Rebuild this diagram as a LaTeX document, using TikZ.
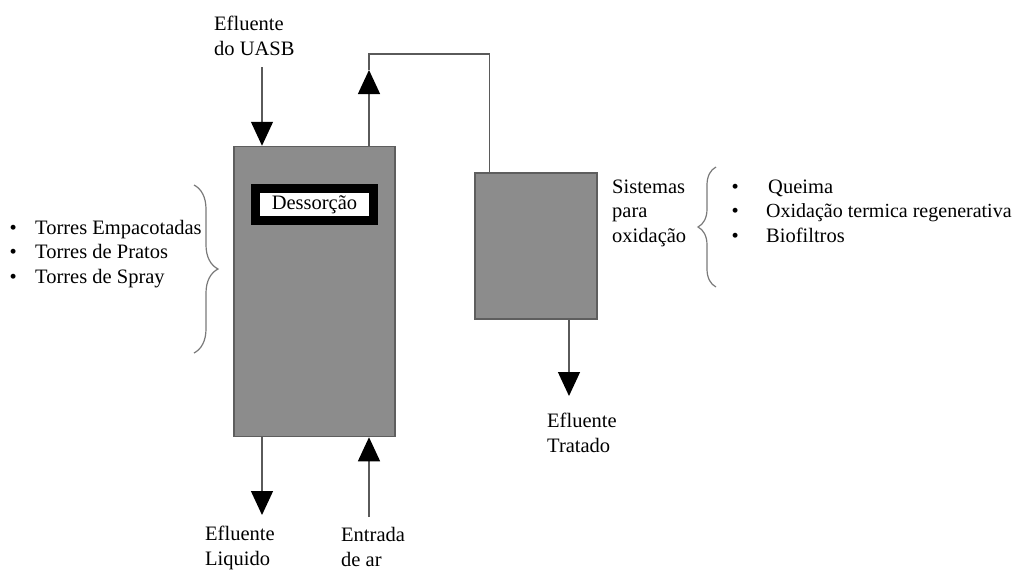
\documentclass[tikz,border=0pt]{standalone}
\usepackage{fontspec}
\setmainfont{Liberation Serif}
\usetikzlibrary{arrows.meta,decorations.pathreplacing}
\definecolor{boxfill}{HTML}{8C8C8C}
\definecolor{boxline}{HTML}{5E5E5E}
\definecolor{flowline}{HTML}{5A5A5A}
\definecolor{bracecol}{HTML}{7A7A7A}
\begin{document}
\begin{tikzpicture}[x=1pt,y=-1pt,
  unitbox/.style={draw=boxline,fill=boxfill,line width=1.5pt,inner sep=0pt},
  flow/.style={draw=flowline,line width=1.3pt},
  tip/.style={-{Triangle[width=22pt,length=24pt,color=black]}},
  txt/.style={anchor=base west,align=left,inner sep=0pt,font=\fontsize{20.5}{24.5}\selectfont},
  curly/.style={draw=bracecol,line width=1.2pt,decorate},
]
\useasboundingbox (0,0) rectangle (1019,570);

% units
\node[unitbox,minimum width=161pt,minimum height=290pt] (tower) at (314.5,291.5) {};
\node[unitbox,minimum width=122pt,minimum height=146pt] (oxid) at (536,246) {};
\node[draw=black,line width=9pt,fill=white,inner sep=0pt,minimum width=118pt,minimum height=32pt,
      font=\fontsize{20.5}{24}\selectfont] (dess) at (314.5,204.75) {Dessorção};

% free ends
\coordinate (uasb) at (262,67);
\coordinate (gasTip) at (369,70);
\coordinate (gasCorner) at (369,54);
\coordinate (liqEnd) at (262,515);
\coordinate (airStart) at (369,517);
\coordinate (tratEnd) at (569,396);

% connectors
\draw[flow,tip] (uasb) -- (uasb |- tower.north);
\draw[flow,tip] (gasTip |- tower.north) -- (gasTip);
\draw[flow] (gasTip) -- (gasCorner) -| ([xshift=15pt]oxid.north west);
\draw[flow,tip] (liqEnd |- tower.south) -- (liqEnd);
\draw[flow,tip] (airStart) -- (airStart |- tower.south);
\draw[flow,tip] (tratEnd |- oxid.south) -- (tratEnd);

% labels (base anchor = baseline of the last line)
\node[txt] (lblUasb) at (214,55) {Efluente\\do UASB};
\node[txt] (lblLiq) at (205,565) {Efluente\\Liquido};
\node[txt] (lblAir) at (341,566) {Entrada\\de ar};
\node[txt] (lblTrat) at (547,452) {Efluente\\Tratado};
\node[txt] (lblSist) at (612,242) {Sistemas\\para\\oxidação};

% left list
\node[txt] (listTorres) at (9.5,283) {%
  \makebox[25.5pt][l]{\textbullet}Torres Empacotadas\\
  \makebox[25.5pt][l]{\textbullet}Torres de Pratos\\
  \makebox[25.5pt][l]{\textbullet}Torres de Spray};

% right list
\node[txt] (listOxid) at (731.5,242) {%
  \makebox[36.5pt][l]{\textbullet}Queima\\
  \makebox[34.5pt][l]{\textbullet}\fontsize{20}{24.5}\selectfont Oxidação termica regenerativa\\
  \makebox[34.5pt][l]{\textbullet}Biofiltros};

% braces
\draw[curly,decoration={brace,amplitude=24pt}] (194,185) -- (194,353);
\draw[curly,decoration={brace,amplitude=18pt}] (716,287) -- (716,167);
\end{tikzpicture}
\end{document}
